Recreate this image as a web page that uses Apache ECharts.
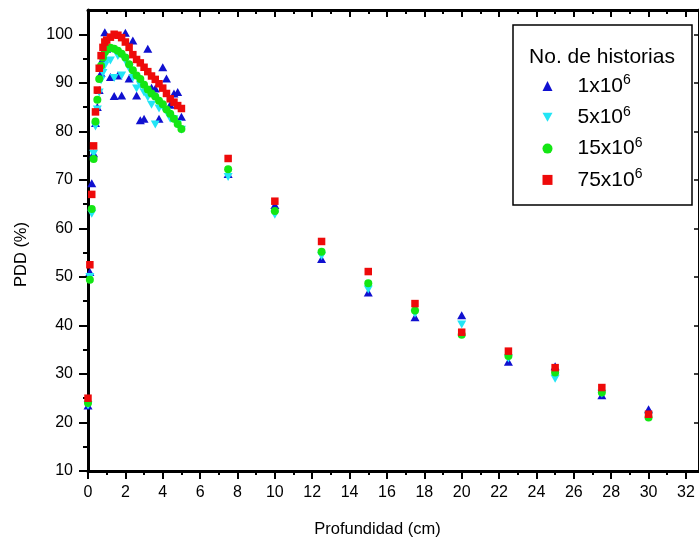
<!DOCTYPE html>
<html>
<head>
<meta charset="utf-8">
<script src="https://cdn.jsdelivr.net/npm/echarts@6/dist/echarts.min.js"></script>
<style>html,body{margin:0;padding:0;background:#fff}#c{width:699px;height:543px}</style>
</head>
<body>
<div id="c"></div>
<script>
// ---------- data ----------
const depth = [0, 0.1, 0.2, 0.3, 0.4, 0.5, 0.6, 0.7, 0.8, 0.9, 1.0,
  1.2, 1.4, 1.6, 1.8, 2.0, 2.2, 2.4, 2.6, 2.8, 3.0, 3.2, 3.4, 3.6, 3.8, 4.0,
  4.2, 4.4, 4.6, 4.8, 5.0,
  7.5, 10, 12.5, 15, 17.5, 20, 22.5, 25, 27.5, 30];

const seriesNames = ['1x10^6', '5x10^6', '15x10^6', '75x10^6'];

const pdd1 = [23.5, 51, 69.3, 75.5, 81.7, 85, 88.5, 92, 95, 100.4, 97,
  91.2, 87.3, 91.5, 87.4, 100.3, 90.9, 98.7, 87.4, 82.3, 82.6, 97, 89, 88.8, 82.6, 93.2,
  90.9, 85.5, 87.8, 88.1, 83,
  71.2, 64.8, 53.7, 46.8, 41.7, 42.1, 32.5, 31.6, 25.6, 22.7];

const pdd5 = [23.5, 50, 63, 75.4, 81, 84.5, 88, 90.5, 92, 93.5, 94.5,
  94.6, 91, 95.5, 91.5, 94.5, 93, 91, 88.8, 89.5, 88, 87, 85.5, 81.4, 84.7, 85,
  84, 82.6, 82.5, 81.5, 80.3,
  70.6, 62.8, 54.3, 47.4, 42.4, 40.2, 33.2, 29.0, 25.9, 21.4];

const pdd15 = [24, 49.4, 64, 74.3, 82, 86.5, 90.8, 93.5, 95.2, 96.3, 96.8,
  97.2, 97, 96.6, 96, 95.2, 93.8, 92.6, 91.5, 90.8, 89.6, 88.6, 87.8, 87.2, 86.3, 85.6,
  84.5, 83.6, 82.6, 81.5, 80.5,
  72.2, 63.6, 55.2, 48.7, 43.1, 38.1, 33.7, 30.3, 26.2, 21.0];

const pdd75 = [25, 52.5, 67, 77, 84, 88.5, 93, 95.6, 97.3, 98.4, 98.8,
  99.4, 100, 99.8, 99.3, 98.4, 97.3, 95.8, 94.8, 94.1, 93.2, 92.3, 91.4, 90.7, 89.8, 88.9,
  87.8, 86.7, 86, 85.3, 84.7,
  74.4, 65.6, 57.3, 51.1, 44.5, 38.6, 34.7, 31.3, 27.2, 21.7];

const xMajorTicks = [0, 2, 4, 6, 8, 10, 12, 14, 16, 18, 20, 22, 24, 26, 28, 30, 32];
const xMinorTicks = [1, 3, 5, 7, 9, 11, 13, 15, 17, 19, 21, 23, 25, 27, 29, 31];
const yMajorTicks = [10, 20, 30, 40, 50, 60, 70, 80, 90, 100];
const yMinorTicks = [15, 25, 35, 45, 55, 65, 75, 85, 95];

// ---------- styling ----------
const FONT = 'Liberation Sans, Arial, sans-serif';
const colors = ['#1010d0', '#22e5f5', '#14e614', '#ee0a0a'];
const symbols = ['triangle', 'path://M0,0 L10,0 L5,9 Z', 'circle', 'rect'];
const sizes = [[9, 8], [9, 8], 8, 7.5];
const values = [pdd1, pdd5, pdd15, pdd75];

const X_MIN = 0, X_MAX = 32.7, Y_MIN = 10, Y_MAX = 105;
const black = '#000';

function xAx(extra) {
  return Object.assign({
    type: 'value', min: X_MIN, max: X_MAX, gridIndex: 0,
    splitLine: { show: false },
    axisLine: { show: false, onZero: false },
    axisLabel: { show: false },
    axisTick: { show: false }
  }, extra);
}
function yAx(extra) {
  return Object.assign({
    type: 'value', min: Y_MIN, max: Y_MAX, gridIndex: 0,
    splitLine: { show: false },
    axisLine: { show: false, onZero: false },
    axisLabel: { show: false },
    axisTick: { show: false }
  }, extra);
}

const option = {
  animation: false,
  backgroundColor: '#fff',
  textStyle: { fontFamily: FONT },
  grid: { left: 88, top: 10, bottom: 71, right: -1, containLabel: false },
  xAxis: [
    xAx({
      position: 'bottom',
      axisLine: { show: true, onZero: false, lineStyle: { color: black, width: 3 } },
      axisTick: { show: true, customValues: xMajorTicks, length: 8, lineStyle: { color: black, width: 2 } },
      axisLabel: { show: true, customValues: xMajorTicks, fontSize: 16, color: black, margin: 14, fontFamily: FONT },
      name: 'Profundidad (cm)', nameLocation: 'middle', nameGap: 50,
      nameTextStyle: { fontSize: 16.5, color: black, fontFamily: FONT, padding: [0, 32, 0, 0] }
    }),
    xAx({
      position: 'bottom',
      axisTick: { show: true, customValues: xMinorTicks, length: 4, lineStyle: { color: black, width: 2 } }
    }),
    xAx({
      position: 'top',
      axisLine: { show: true, onZero: false, lineStyle: { color: black, width: 3 } },
      axisTick: { show: true, inside: true, customValues: xMajorTicks, length: 7, lineStyle: { color: black, width: 2 } }
    }),
    xAx({
      position: 'top',
      axisTick: { show: true, inside: true, customValues: xMinorTicks, length: 4, lineStyle: { color: black, width: 2 } }
    })
  ],
  yAxis: [
    yAx({
      position: 'left',
      axisLine: { show: true, onZero: false, lineStyle: { color: black, width: 3 } },
      axisTick: { show: true, customValues: yMajorTicks, length: 9, lineStyle: { color: black, width: 2 } },
      axisLabel: { show: true, customValues: yMajorTicks, fontSize: 16, color: black, margin: 15, fontFamily: FONT },
      name: 'PDD (%)', nameLocation: 'middle', nameGap: 58,
      nameTextStyle: { fontSize: 16.5, color: black, fontFamily: FONT, padding: [0, 28, 0, 0] }
    }),
    yAx({
      position: 'left',
      axisTick: { show: true, customValues: yMinorTicks, length: 5, lineStyle: { color: black, width: 2 } }
    }),
    yAx({
      position: 'right',
      axisLine: { show: true, onZero: false, lineStyle: { color: black, width: 3 } },
      axisTick: { show: true, inside: true, customValues: yMajorTicks, length: 5, lineStyle: { color: black, width: 1.5 } }
    })
  ],
  legend: {
    orient: 'vertical',
    left: 537.5, top: 68.5,
    itemWidth: 10, itemHeight: 10, itemGap: 8.3,
    selectedMode: false,
    data: seriesNames.map((n, i) => ({ name: n, icon: symbols[i] })),
    formatter: function (name) {
      const p = name.split('^');
      return '{b|' + p[0] + '}{s|' + p[1] + '}';
    },
    textStyle: {
      color: black, fontFamily: FONT, fontSize: 21,
      padding: [0, 0, 0, 20],
      rich: {
        b: { fontSize: 21, lineHeight: 25, color: black, fontFamily: FONT },
        s: { fontSize: 14, lineHeight: 12, verticalAlign: 'top', color: black, fontFamily: FONT }
      }
    }
  },
  graphic: [
    { type: 'rect', z: 1, shape: { x: 513, y: 25, width: 179, height: 180 },
      style: { fill: '#fff', stroke: black, lineWidth: 1.5 } },
    { type: 'text', z: 5, x: 602, y: 57,
      style: { text: 'No. de historias', fontSize: 21, fontFamily: FONT, fill: black, align: 'center', verticalAlign: 'middle' } }
  ],
  series: seriesNames.map((n, i) => ({
    name: n,
    type: 'scatter',
    xAxisIndex: 0, yAxisIndex: 0,
    symbol: symbols[i],
    symbolSize: sizes[i],
    itemStyle: { color: colors[i], opacity: 1 },
    emphasis: { disabled: true },
    data: values[i].map((v, k) => [depth[k], v]),
    z: 2 + i
  }))
};

const chart = echarts.init(document.getElementById('c'), null, { renderer: 'canvas' });
chart.setOption(option);
</script>
</body>
</html>
